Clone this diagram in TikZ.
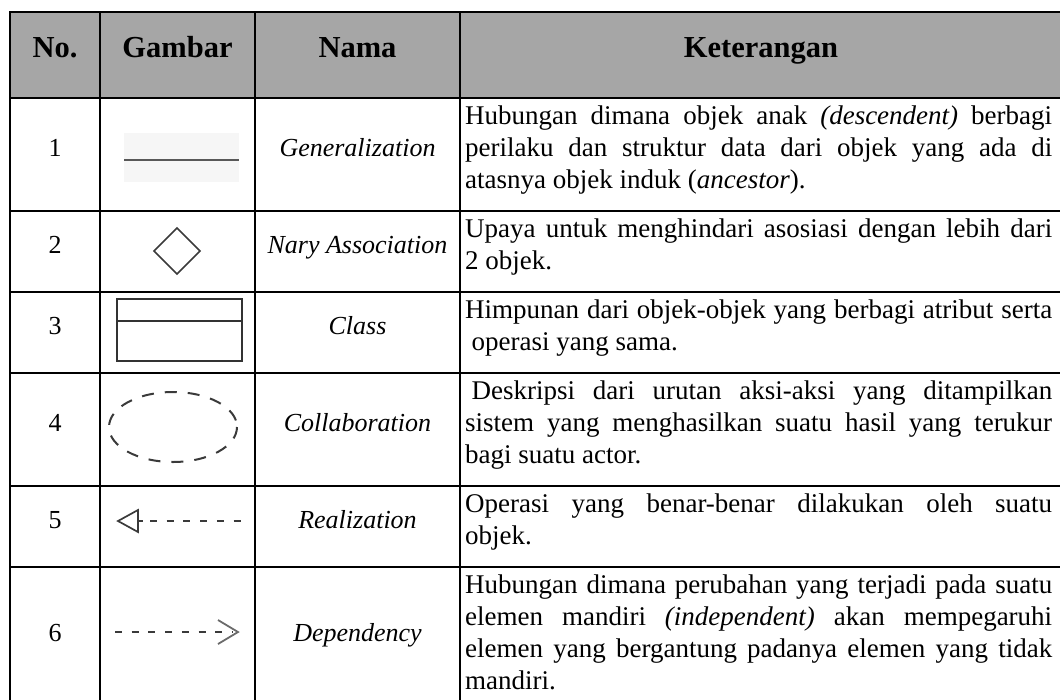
\documentclass[tikz,border=0pt]{standalone}
\usepackage{fontspec}
\setmainfont{Liberation Serif}
\tolerance=10000
\hbadness=10000
\definecolor{hdr}{HTML}{A6A6A6}
\definecolor{shp}{HTML}{3A3A3A}
\definecolor{faint}{HTML}{F6F6F6}
\tikzset{
  grid/.style={line width=2.6pt, black},
  hdrtext/.style={font=\fontsize{30.5}{34}\selectfont\bfseries, anchor=base, inner sep=0pt},
  numtext/.style={font=\fontsize{26}{32}\selectfont, anchor=base, inner sep=0pt},
  nametext/.style={font=\fontsize{26}{32}\selectfont\itshape, anchor=base, inner sep=0pt},
  desctext/.style={font=\fontsize{27}{32}\selectfont,
    anchor=north west, inner sep=0pt, text width=587pt, align=justify},
  symline/.style={draw=shp, line width=1.8pt},
  symdash/.style={draw=shp, line width=2.1pt, dash pattern=on 7pt off 9.7pt},
}
\begin{document}
\begin{tikzpicture}[x=1pt,y=-1pt]
\useasboundingbox (0,0) rectangle (1060,699);
\clip (0,0) rectangle (1060,699);
% header background
\fill[hdr] (10,12) rectangle (1062,98);
% grid
\draw[grid] (10,12) rectangle (1062,712);
\foreach \yy in {98,211,292,373,486,567} \draw[grid] (10,\yy) -- (1062,\yy);
\foreach \xx in {100,255,460} \draw[grid] (\xx,12) -- (\xx,712);
% header
\node[hdrtext] (hno) at (55,57) {No.};
\node[hdrtext] (hgb) at (177.5,57) {Gambar};
\node[hdrtext] (hnm) at (357.5,57) {Nama};
\node[hdrtext] (hkt) at (761,57) {Keterangan};
% numbers
\node[numtext] (n1) at (55,156.3) {1};
\node[numtext] (n2) at (55,253.3) {2};
\node[numtext] (n3) at (55,334.3) {3};
\node[numtext] (n4) at (55,431.3) {4};
\node[numtext] (n5) at (55,528.3) {5};
\node[numtext] (n6) at (55,641.3) {6};
% names
\node[nametext] (m1) at (357.5,156.3) {Generalization};
\node[nametext] (m2) at (357.5,253.3) {Nary Association};
\node[nametext] (m3) at (357.5,334.3) {Class};
\node[nametext] (m4) at (357.5,431.3) {Collaboration};
\node[nametext] (m5) at (357.5,528.3) {Realization};
\node[nametext] (m6) at (357.5,641.3) {Dependency};
% descriptions
\node[desctext] (d1) at (465,102.1) {\strut Hubungan dimana objek anak \textit{(descendent)} berbagi\linebreak perilaku dan struktur data dari objek yang ada di\linebreak atasnya objek induk (\textit{ancestor}).};
\node[desctext] (d2) at (465,215.1) {\strut Upaya untuk menghindari asosiasi dengan lebih dari\linebreak 2 objek.};
\node[desctext] (d3) at (465,296.1) {\strut Himpunan dari objek-objek yang berbagi atribut serta\linebreak\hspace*{6.5pt}operasi yang sama.};
\node[desctext] (d4) at (465,377.1) {\strut\hspace*{6.5pt}Deskripsi dari urutan aksi-aksi yang ditampilkan\linebreak sistem yang menghasilkan suatu hasil yang terukur\linebreak bagi suatu actor.};
\node[desctext] (d5) at (465,490.1) {\strut Operasi yang benar-benar dilakukan oleh suatu\linebreak objek.};
\node[desctext] (d6) at (465,571.1) {\strut Hubungan dimana perubahan yang terjadi pada suatu\linebreak elemen mandiri \textit{(independent)} akan mempegaruhi\linebreak elemen yang bergantung padanya elemen yang tidak\linebreak mandiri.};
% symbols
% 1 generalization
\fill[faint] (124,133) rectangle (239,182);
\draw[draw=shp!85, line width=1.8pt] (124,160) -- (239,160);
% 2 diamond
\draw[symline, line width=1.6pt] (177,228) -- (200,251) -- (177,274) -- (154,251) -- cycle;
% 3 class
\draw[symline, draw=black!80, line width=2pt] (117,299) rectangle (242,361);
\draw[symline, draw=black!80, line width=2pt] (117,321) -- (242,321);
% 4 collaboration
\draw[draw=shp, line width=2pt, dash pattern=on 12pt off 11pt] (173,427) ellipse [x radius=64, y radius=35];
% 5 realization
\draw[symline, line width=1.7pt] (118,521) -- (138,510) -- (138,532) -- cycle;
\draw[symline, line width=2.1pt] (138,521) -- (143,521);
\draw[symdash] (150,521) -- (243,521);
% 6 dependency
\draw[symdash] (115,632) -- (232,632);
\draw[symline, draw=shp!75, line width=1.8pt] (218,620) -- (238,632) -- (218,644);
\end{tikzpicture}
\end{document}
